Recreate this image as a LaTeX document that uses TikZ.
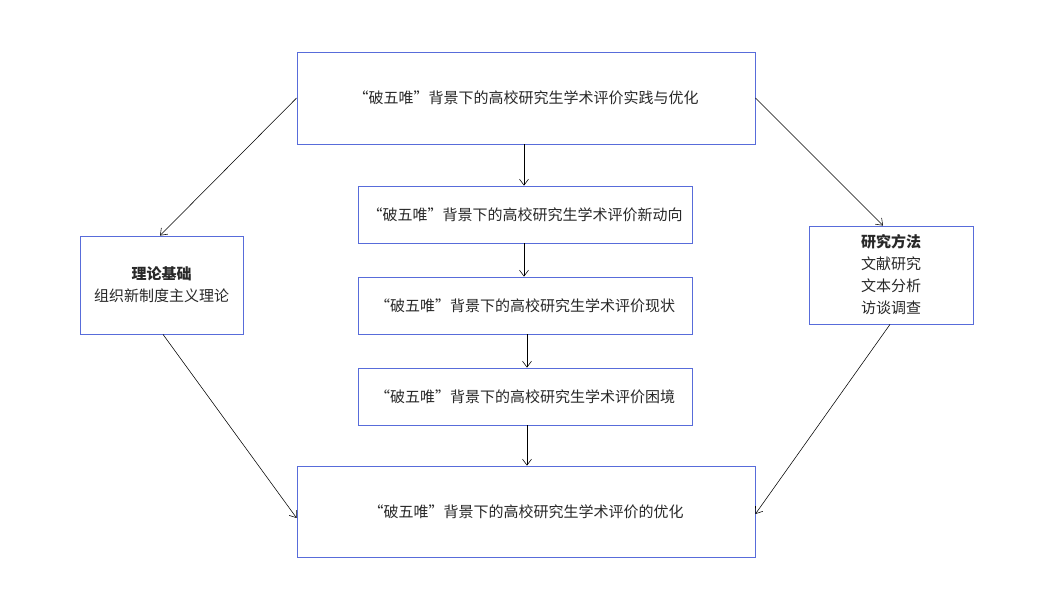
\documentclass[tikz,border=0pt]{standalone}
\usepackage{fontspec}
\setmainfont{Noto Sans CJK SC}
\usetikzlibrary{arrows.meta}
\definecolor{boxblue}{RGB}{88,108,218}
\definecolor{txt}{RGB}{40,40,40}
\tikzset{
  box/.style={draw=boxblue, line width=0.8pt, fill=white, rectangle, align=center, text=txt, font=\fontsize{15}{22}\selectfont, inner sep=0pt},
  conn/.style={draw=black, line width=0.55pt, -{Straight Barb[length=6pt,width=9pt]}}
}
\begin{document}
\begin{tikzpicture}[x=1pt,y=-1pt]
\useasboundingbox[fill=white] (0,0) rectangle (1053,603);
\node[box, minimum width=458pt, minimum height=92pt] (top) at (526,98) {“破五唯”背景下的高校研究生学术评价实践与优化};
\node[box, minimum width=334pt, minimum height=57pt] (b1) at (525,214.5) {“破五唯”背景下的高校研究生学术评价新动向};
\node[box, minimum width=334pt, minimum height=57pt] (b2) at (525,305.5) {“破五唯”背景下的高校研究生学术评价现状};
\node[box, minimum width=334pt, minimum height=57pt] (b3) at (525,396.5) {“破五唯”背景下的高校研究生学术评价困境};
\node[box, minimum width=458pt, minimum height=91pt] (bot) at (526,511.5) {“破五唯”背景下的高校研究生学术评价的优化};
\node[box, minimum width=163pt, minimum height=98pt] (left) at (161.5,285) {\textbf{理论基础}\\组织新制度主义理论};
\node[box, minimum width=164pt, minimum height=98pt] (right) at (891,275) {\textbf{研究方法}\\文献研究\\文本分析\\访谈调查};
\draw[conn] ([xshift=-2pt]top.south) -- ([xshift=-1pt]b1.north);
\draw[conn] ([xshift=-1pt]b1.south) -- ([xshift=-1pt]b2.north);
\draw[conn] ([xshift=2pt]b2.south) -- ([xshift=2pt]b3.north);
\draw[conn] ([xshift=2pt]b3.south) -- ([xshift=1pt]bot.north);
\draw[conn] (top.west) -- ([xshift=-1.5pt]left.north);
\draw[conn] (top.east) -- ([xshift=-8pt]right.north);
\draw[conn] ([xshift=1.5pt]left.south) -- ([yshift=-6.5pt]bot.west);
\draw[conn] ([xshift=-1pt]right.south) -- ([yshift=-2.5pt]bot.east);
\end{tikzpicture}
\end{document}
